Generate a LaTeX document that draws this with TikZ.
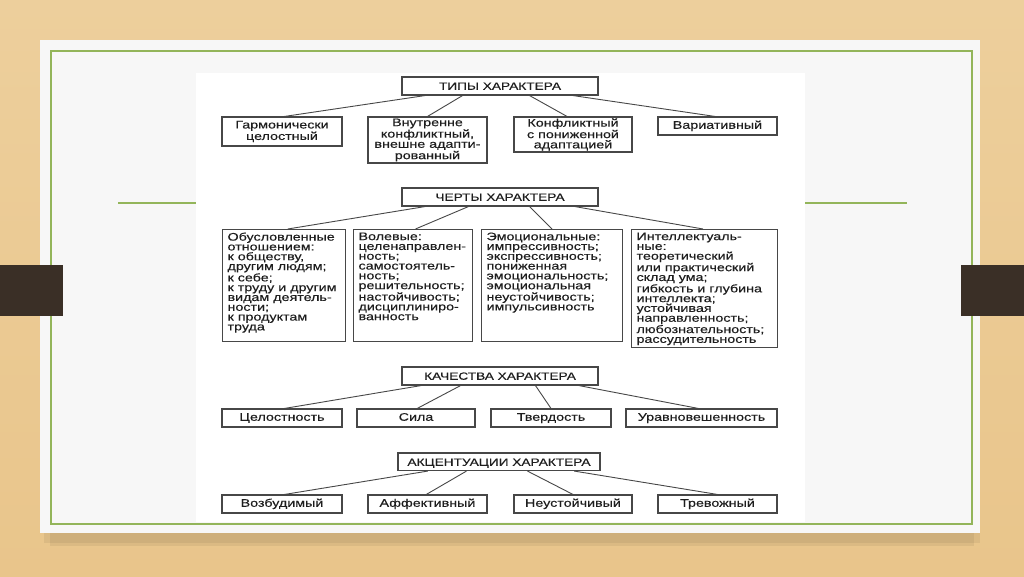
\documentclass[tikz,border=0pt]{standalone}
\usepackage{fontspec}
\setmainfont{Liberation Sans}[FakeStretch=1.3,FakeBold=0.3]
\usetikzlibrary{calc}
\definecolor{wood}{HTML}{E9C58B}
\definecolor{woodlt}{HTML}{EDCF9C}
\definecolor{slide}{HTML}{F7F7F7}
\definecolor{olive}{HTML}{93B55A}
\definecolor{bark}{HTML}{3A2F26}
\definecolor{ink}{HTML}{1E1E1E}
\definecolor{frame}{HTML}{474747}
\tikzset{
  hdr/.style={rectangle,draw=frame,line width=1.1pt,fill=white,text=ink,
    minimum width=196pt,minimum height=18pt,inner sep=0pt,text height=8pt,text depth=.5pt,
    font=\fontsize{10.5}{10}\selectfont},
  box/.style={rectangle,draw=frame,line width=1.1pt,fill=white,text=ink,align=center,
    inner sep=0pt,minimum height=18pt,font=\fontsize{11}{10.2}\selectfont},
  one/.style={text height=8pt,text depth=2.5pt},
  col/.style={rectangle,draw=frame,line width=1.1pt,fill=white,text=ink,anchor=north west,
    inner xsep=5pt,inner ysep=3pt,font=\fontsize{11}{9.8}\selectfont},
  link/.style={draw=frame,line width=0.9pt},
}
\newcommand{\colbox}[3]{\parbox[t][#1][t]{#2}{\raggedright\hyphenpenalty=10000
  \exhyphenpenalty=10000\hfuzz=20pt #3}}

\begin{document}
\begin{tikzpicture}[x=1pt,y=-1pt]
  \useasboundingbox (0,0) rectangle (1024,576);
  % slide and background
  \shade[top color=woodlt,bottom color=wood] (0,0) rectangle (1024,576);
  \fill[black,opacity=.06] (44,531) rectangle (980,543);
  \fill[black,opacity=.06] (50,533) rectangle (974,546);
  \fill[slide] (40,40) rectangle (980,533);
  \draw[olive,line width=1.4pt] (51,51) rectangle (972,524);
  \draw[olive,line width=1.4pt] (118,203) -- (196,203);
  \draw[olive,line width=1.4pt] (805,203) -- (907,203);
  \fill[bark] (0,265) rectangle (63,316);
  \fill[bark] (961,265) rectangle (1024,316);
  \fill[white] (196,73) rectangle (805,522);

  % types
  \node[hdr] (tip) at (500,86) {ТИПЫ ХАРАКТЕРА};
  \node[box,minimum width=120pt,minimum height=29pt] (garm) at (282,131.5) {Гармонически\\целостный};
  \node[box,minimum width=119pt,minimum height=46pt] (vnutr) at (427.5,140) {Внутренне\\конфликтный,\\внешне адапти-\\рованный};
  \node[box,minimum width=118pt,minimum height=35pt] (konfl) at (573,134.5) {Конфликтный\\с пониженной\\адаптацией};
  \node[box,one,minimum width=119pt] (variat) at (717.5,126) {Вариативный};

  % traits
  \node[hdr] (chert) at (500,197) {ЧЕРТЫ ХАРАКТЕРА};
  \node[col] (obusl) at (222,229) {\colbox{106pt}{113pt}{Обусловленные\\отношением:\\к обществу,\\другим людям;\\к себе;\\к труду и другим\\видам деятель-\\ности;\\к продуктам\\труда}};
  \node[col] (vol) at (353,229) {\colbox{106pt}{109pt}{Волевые:\\целенаправлен-\\ность;\\самостоятель-\\ность;\\решительность;\\настойчивость;\\дисциплиниро-\\ванность}};
  \node[col] (emoc) at (481,229) {\colbox{106pt}{131pt}{Эмоциональные:\\импрессивность;\\экспрессивность;\\пониженная\\эмоциональность;\\эмоциональная\\неустойчивость;\\импульсивность}};
  \node[col] (intel) at (631,229) {\colbox{112pt}{136pt}{Интеллектуаль-\\ные:\\теоретический\\или практический\\склад ума;\\гибкость и глубина\\интеллекта;\\устойчивая\\направленность;\\любознательность;\\рассудительность}};

  % qualities
  \node[hdr] (kach) at (500,376) {КАЧЕСТВА ХАРАКТЕРА};
  \node[box,one,minimum width=120pt] (cel) at (282,418) {Целостность};
  \node[box,one,minimum width=118pt] (sila) at (416,418) {Сила};
  \node[box,one,minimum width=120pt] (tverd) at (551,418) {Твердость};
  \node[box,one,minimum width=151pt] (uravn) at (701.5,418) {Уравновешенность};

  % accentuations
  \node[hdr,minimum width=202pt,minimum height=17pt] (akc) at (499,462) {АКЦЕНТУАЦИИ ХАРАКТЕРА};
  \draw[frame,line width=1.8pt] (akc.north west) -- (akc.north east);
  \node[box,one,minimum width=120pt] (vozb) at (282,504) {Возбудимый};
  \node[box,one,minimum width=119pt] (affekt) at (427.5,504) {Аффективный};
  \node[box,one,minimum width=118pt] (neust) at (573,504) {Неустойчивый};
  \node[box,one,minimum width=119pt] (trev) at (717.5,504) {Тревожный};

  % links
  \foreach \p/\f/\c/\g in {tip/.12/garm/.52, tip/.31/vnutr/.5, tip/.65/konfl/.45, tip/.87/variat/.48,
      chert/.12/obusl/.53, chert/.34/vol/.52, chert/.65/emoc/.5, chert/.88/intel/.49,
      kach/.1/cel/.52, kach/.3/sila/.51, kach/.68/tverd/.5, kach/.9/uravn/.48,
      akc/.15/vozb/.52, akc/.34/affekt/.49, akc/.64/neust/.5, akc/.87/trev/.5}
    \draw[link] ($(\p.south west)!\f!(\p.south east)$) -- ($(\c.north west)!\g!(\c.north east)$);
\end{tikzpicture}
\end{document}
